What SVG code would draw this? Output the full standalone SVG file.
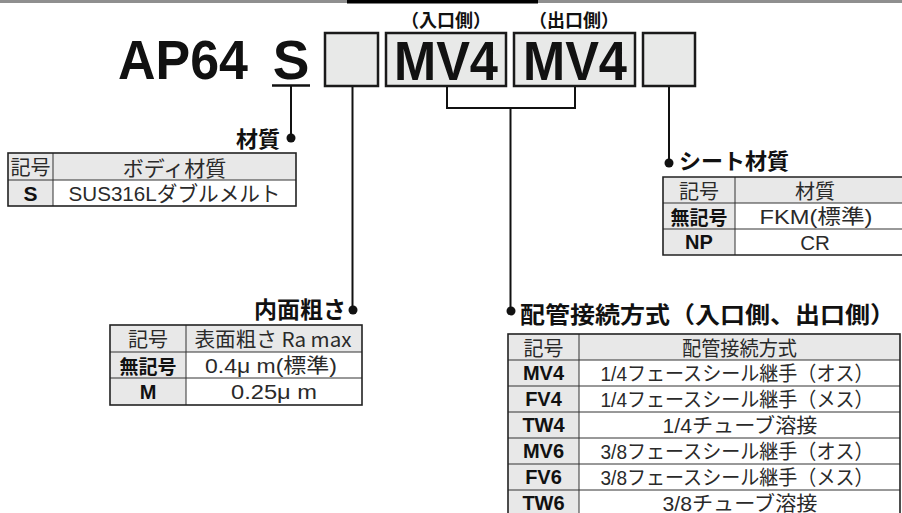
<svg xmlns="http://www.w3.org/2000/svg" width="902" height="513" viewBox="0 0 902 513">
<style>
.bg{fill:#ffffff}
.box{fill:#e8e9e8;stroke:#1a1a1a;stroke-width:2.5}
.big{font-family:"Liberation Sans",Arial,sans-serif;font-weight:bold;font-size:55px;fill:#111}
.lbl{font-family:"Noto Sans CJK JP","Noto Sans",sans-serif;font-weight:bold;font-size:18px;fill:#111}
.head{font-family:"Noto Sans CJK JP","Noto Sans",sans-serif;font-weight:bold;font-size:22px;fill:#111}
.conn{fill:none;stroke:#111;stroke-width:2}
.dot{fill:#111}
.hd{fill:#e8e8e8}
.frame{fill:none;stroke:#222;stroke-width:1.6}
.grid{stroke:#333;stroke-width:1}
.t{font-family:"Liberation Sans","Noto Sans CJK JP",sans-serif;font-size:20.5px;fill:#2a2a2a;text-anchor:middle;dominant-baseline:central}
.tj{font-family:"Noto Sans CJK JP","Liberation Sans",sans-serif;font-size:20px;fill:#2a2a2a;text-anchor:middle;dominant-baseline:central}
.b{font-family:"Liberation Sans","Noto Sans CJK JP",sans-serif;font-weight:bold;font-size:20px;fill:#111;text-anchor:middle;dominant-baseline:central}
.bj{font-family:"Noto Sans CJK JP","Liberation Sans",sans-serif;font-weight:bold;font-size:19px;fill:#111;text-anchor:middle;dominant-baseline:central}
</style>
<rect class="bg" x="0" y="0" width="902" height="513"/>
<rect x="0" y="0" width="902" height="3" fill="#8f8f8f"/>
<rect x="347" y="0" width="191" height="3.5" fill="#000"/>

<g id="model">
<text class="big" x="118" y="79" textLength="130" lengthAdjust="spacingAndGlyphs">AP64</text>
<text class="big" x="291" y="79" text-anchor="middle">S</text>
<line x1="272" y1="85.5" x2="310" y2="85.5" stroke="#111" stroke-width="2.5"/>
</g>
<g id="box-roughness"><rect class="box" x="325" y="33" width="53" height="53"/></g>
<g id="box-inlet">
<rect class="box" x="386" y="33" width="120" height="53"/>
<text class="big" x="394" y="80" textLength="104" lengthAdjust="spacingAndGlyphs">MV4</text>
<text class="lbl" x="446" y="27" text-anchor="middle">（入口側）</text>
</g>
<g id="box-outlet">
<rect class="box" x="514" y="33" width="121" height="53"/>
<text class="big" x="523" y="80" textLength="104" lengthAdjust="spacingAndGlyphs">MV4</text>
<text class="lbl" x="574" y="27" text-anchor="middle">（出口側）</text>
</g>
<g id="box-seat"><rect class="box" x="643" y="33" width="52" height="53"/></g>

<g id="connectors">
<path class="conn" d="M291 86 V138"/>
<circle class="dot" cx="291" cy="138" r="4.5"/>
<path class="conn" d="M352.5 87 V310"/>
<circle class="dot" cx="353" cy="310" r="4.5"/>
<path class="conn" d="M447 87 V108 H575 V87"/>
<path class="conn" d="M510.5 108 V311"/>
<circle class="dot" cx="511" cy="311" r="4.5"/>
<path class="conn" d="M669 87 V163"/>
<circle class="dot" cx="669" cy="163" r="4.5"/>
</g>

<g id="table-material">
<text class="head" x="280" y="147" text-anchor="end">材質</text>
<rect class="hd" x="8" y="153" width="288" height="27"/>
<rect class="hd" x="8" y="180" width="45" height="26"/>
<line class="grid" x1="8" y1="180" x2="296" y2="180"/>
<line class="grid" x1="53" y1="153" x2="53" y2="206"/>
<rect class="frame" x="8" y="153" width="288" height="53"/>
<text class="tj" x="30.5" y="166.5" style="font-size:20px">記号</text>
<text class="tj" x="174.5" y="166.5" style="font-size:21px">ボディ材質</text>
<text class="b" x="30.5" y="193.5" style="font-size:21px">S</text>
<text class="t" x="174.5" y="193.5" style="font-size:21px" textLength="212" lengthAdjust="spacingAndGlyphs">SUS316Lダブルメルト</text>
</g>

<g id="table-seat">
<text class="head" x="679" y="169">シート材質</text>
<rect class="hd" x="663" y="177" width="240" height="26"/>
<rect class="hd" x="663" y="203" width="72" height="52"/>
<line class="grid" x1="663" y1="203" x2="903" y2="203"/>
<line class="grid" x1="663" y1="229" x2="903" y2="229"/>
<line class="grid" x1="735" y1="177" x2="735" y2="255"/>
<path class="frame" d="M903 177 H663 V255 H903"/>
<text class="tj" x="699" y="190">記号</text>
<text class="tj" x="815" y="190">材質</text>
<text class="bj" x="699" y="216">無記号</text>
<text class="t" x="816" y="216" textLength="113" lengthAdjust="spacingAndGlyphs">FKM(標準)</text>
<text class="t" x="815" y="242">CR</text>
<text class="b" x="699" y="242">NP</text>
</g>

<g id="table-roughness">
<text class="head" x="346" y="318" text-anchor="end" style="font-size:23px">内面粗さ</text>
<rect class="hd" x="110" y="325" width="252" height="27"/>
<rect class="hd" x="110" y="352" width="76" height="53"/>
<line class="grid" x1="110" y1="352" x2="362" y2="352"/>
<line class="grid" x1="110" y1="378" x2="362" y2="378"/>
<line class="grid" x1="186" y1="325" x2="186" y2="405"/>
<rect class="frame" x="110" y="325" width="252" height="80"/>
<text class="tj" x="148" y="338.5">記号</text>
<text class="tj" x="273" y="338.5" textLength="157" lengthAdjust="spacingAndGlyphs">表面粗さ Ra max</text>
<text class="bj" x="148" y="365">無記号</text>
<text class="t" x="271" y="365" textLength="132" lengthAdjust="spacingAndGlyphs">0.4μ m(標準)</text>
<text class="b" x="148" y="391.5">M</text>
<text class="t" x="274" y="391.5" textLength="86" lengthAdjust="spacingAndGlyphs">0.25μ m</text>
</g>

<g id="table-connection">
<text class="head" x="520" y="323" style="font-size:23px" textLength="375" lengthAdjust="spacingAndGlyphs">配管接続方式（入口側、出口側）</text>
<rect class="hd" x="508" y="334" width="392" height="26"/>
<rect class="hd" x="508" y="360" width="71" height="156"/>
<line class="grid" x1="508" y1="360" x2="900" y2="360"/>
<line class="grid" x1="508" y1="386" x2="900" y2="386"/>
<line class="grid" x1="508" y1="412" x2="900" y2="412"/>
<line class="grid" x1="508" y1="438" x2="900" y2="438"/>
<line class="grid" x1="508" y1="464" x2="900" y2="464"/>
<line class="grid" x1="508" y1="490" x2="900" y2="490"/>
<line class="grid" x1="579" y1="334" x2="579" y2="516"/>
<rect class="frame" x="508" y="334" width="392" height="182"/>
<text class="tj" x="543.5" y="347">記号</text>
<text class="tj" x="739.5" y="347" textLength="115" lengthAdjust="spacingAndGlyphs">配管接続方式</text>
<text class="b" x="543.5" y="373">MV4</text>
<text class="t" x="737" y="373" textLength="273" lengthAdjust="spacingAndGlyphs">1/4フェースシール継手（オス）</text>
<text class="b" x="543.5" y="399">FV4</text>
<text class="t" x="737" y="399" textLength="273" lengthAdjust="spacingAndGlyphs">1/4フェースシール継手（メス）</text>
<text class="b" x="543.5" y="425">TW4</text>
<text class="t" x="740" y="425" textLength="155" lengthAdjust="spacingAndGlyphs">1/4チューブ溶接</text>
<text class="b" x="543.5" y="451">MV6</text>
<text class="t" x="737" y="451" textLength="273" lengthAdjust="spacingAndGlyphs">3/8フェースシール継手（オス）</text>
<text class="b" x="543.5" y="477">FV6</text>
<text class="t" x="737" y="477" textLength="273" lengthAdjust="spacingAndGlyphs">3/8フェースシール継手（メス）</text>
<text class="b" x="543.5" y="503">TW6</text>
<text class="t" x="740" y="503" textLength="155" lengthAdjust="spacingAndGlyphs">3/8チューブ溶接</text>
</g>
</svg>
